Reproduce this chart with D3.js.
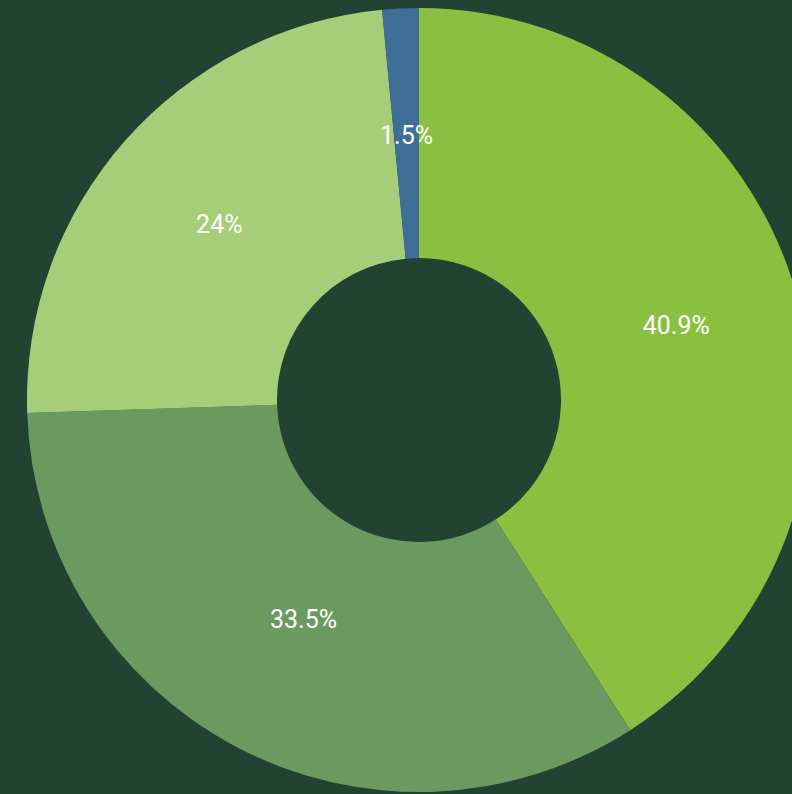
<!DOCTYPE html>
<html>
<head>
<meta charset="utf-8">
<script src="https://cdn.jsdelivr.net/npm/d3@7"></script>
<style>
  html, body { margin: 0; padding: 0; background: #224232; overflow: hidden; }
</style>
</head>
<body>
<div id="donut"></div>
<script>
var labels = ["A", "B", "C", "D"];
var values = [40.9, 33.5, 24, 1.5];
var colors = ["#8bbf3f", "#6a9a5f", "#a6cd78", "#3f6f98"];

var width = 792,
    height = 794,
    cx = 419,
    cy = 400,
    outerR = 392,
    innerR = 142;

// label distance from the centre, per slice (the renderer nudges the big bottom one inward)
var labelR = [268, 248, 266, 265];

var data = labels.map(function(d, i) { return {label: d, value: values[i]}; });

var svg = d3.select("#donut")
    .append("svg")
    .attr("width", width)
    .attr("height", height);

svg.append("rect")
    .attr("width", width)
    .attr("height", height)
    .attr("fill", "#224232");

var g = svg.append("g")
    .attr("transform", "translate(" + cx + "," + cy + ")");

var pie = d3.pie()
    .sort(null)
    .value(function(d) { return d.value; });

var arc = d3.arc()
    .innerRadius(innerR)
    .outerRadius(outerR);

var arcs = pie(data);

g.selectAll("path")
    .data(arcs)
    .enter()
    .append("path")
    .attr("d", arc)
    .attr("fill", function(d, i) { return colors[i]; });

// percentage labels along the slice's mid angle
g.selectAll("text")
    .data(arcs)
    .enter()
    .append("text")
    .attr("transform", function(d, i) {
        var c = d3.arc().innerRadius(labelR[i]).outerRadius(labelR[i]).centroid(d);
        return "translate(" + c + ")";
    })
    .attr("text-anchor", "middle")
    .attr("dy", "0.35em")
    .attr("fill", "#ffffff")
    .style("font-family", "Roboto, sans-serif")
    .style("font-size", "25px")
    .text(function(d) { return d.data.value + "%"; });
</script>
</body>
</html>
